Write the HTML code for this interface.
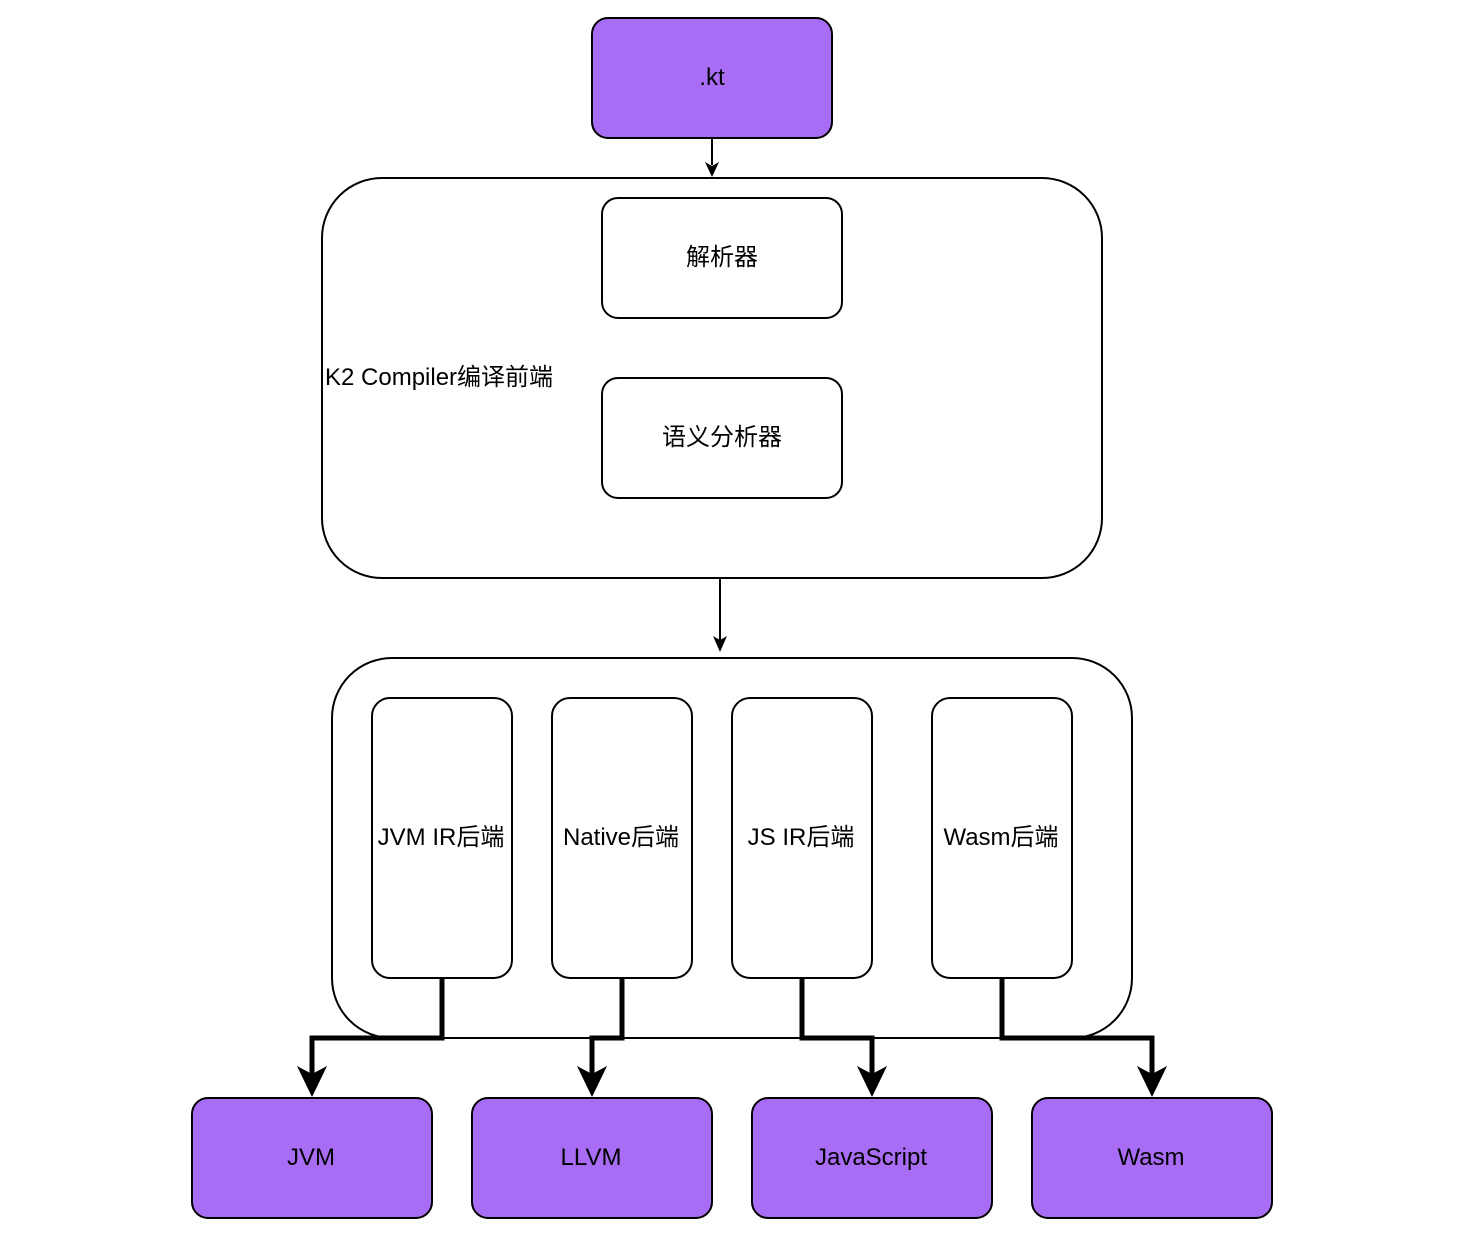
<!DOCTYPE html>
<html><head><meta charset="utf-8"><style>
html,body{margin:0;padding:0;background:#fff;}
svg text{font-family:"Liberation Sans","Noto Sans CJK SC",sans-serif;font-size:24px;fill:#000;}
</style></head><body>
<svg width="1470" height="1240" viewBox="0 0 1470 1240" xmlns="http://www.w3.org/2000/svg">
<rect x="592" y="18" width="240" height="120" rx="16" fill="#a86cf5" stroke="#000" stroke-width="2"/>
<text x="712" y="85" text-anchor="middle">.kt</text>
<line x1="712" y1="138" x2="712" y2="165" stroke="#000" stroke-width="2"/>
<path d="M705 162 L712 177 L719 162 L712 166 Z" fill="#000"/>
<rect x="322" y="178" width="780" height="400" rx="60" fill="#fff" stroke="#000" stroke-width="2"/>
<text x="325" y="385">K2 Compiler编译前端</text>
<rect x="602" y="198" width="240" height="120" rx="16" fill="#fff" stroke="#000" stroke-width="2"/>
<text x="722" y="265" text-anchor="middle">解析器</text>
<rect x="602" y="378" width="240" height="120" rx="16" fill="#fff" stroke="#000" stroke-width="2"/>
<text x="722" y="445" text-anchor="middle">语义分析器</text>
<line x1="720" y1="578" x2="720" y2="640" stroke="#000" stroke-width="2"/>
<path d="M713 636 L720 652 L727 636 L720 640 Z" fill="#000"/>
<rect x="332" y="658" width="800" height="380" rx="60" fill="#fff" stroke="#000" stroke-width="2"/>
<rect x="372" y="698" width="140" height="280" rx="18" fill="#fff" stroke="#000" stroke-width="2"/>
<text x="441" y="845" text-anchor="middle">JVM IR后端</text>
<rect x="552" y="698" width="140" height="280" rx="18" fill="#fff" stroke="#000" stroke-width="2"/>
<text x="621" y="845" text-anchor="middle">Native后端</text>
<rect x="732" y="698" width="140" height="280" rx="18" fill="#fff" stroke="#000" stroke-width="2"/>
<text x="801" y="845" text-anchor="middle">JS IR后端</text>
<rect x="932" y="698" width="140" height="280" rx="18" fill="#fff" stroke="#000" stroke-width="2"/>
<text x="1001" y="845" text-anchor="middle">Wasm后端</text>
<g fill="none" stroke="#000" stroke-width="5" stroke-linejoin="miter">
<polyline points="442,978 442,1038 312,1038 312,1080"/>
<polyline points="622,978 622,1038 592,1038 592,1080"/>
<polyline points="802,978 802,1038 872,1038 872,1080"/>
<polyline points="1002,978 1002,1038 1152,1038 1152,1080"/>
</g>
<g fill="#000">
<path d="M297 1066 L312 1097 L327 1066 L312 1074 Z"/>
<path d="M577 1066 L592 1097 L607 1066 L592 1074 Z"/>
<path d="M857 1066 L872 1097 L887 1066 L872 1074 Z"/>
<path d="M1137 1066 L1152 1097 L1167 1066 L1152 1074 Z"/>
</g>
<rect x="192" y="1098" width="240" height="120" rx="16" fill="#a86cf5" stroke="#000" stroke-width="2"/>
<text x="311" y="1165" text-anchor="middle">JVM</text>
<rect x="472" y="1098" width="240" height="120" rx="16" fill="#a86cf5" stroke="#000" stroke-width="2"/>
<text x="591" y="1165" text-anchor="middle">LLVM</text>
<rect x="752" y="1098" width="240" height="120" rx="16" fill="#a86cf5" stroke="#000" stroke-width="2"/>
<text x="871" y="1165" text-anchor="middle">JavaScript</text>
<rect x="1032" y="1098" width="240" height="120" rx="16" fill="#a86cf5" stroke="#000" stroke-width="2"/>
<text x="1151" y="1165" text-anchor="middle">Wasm</text>
</svg>
</body></html>
